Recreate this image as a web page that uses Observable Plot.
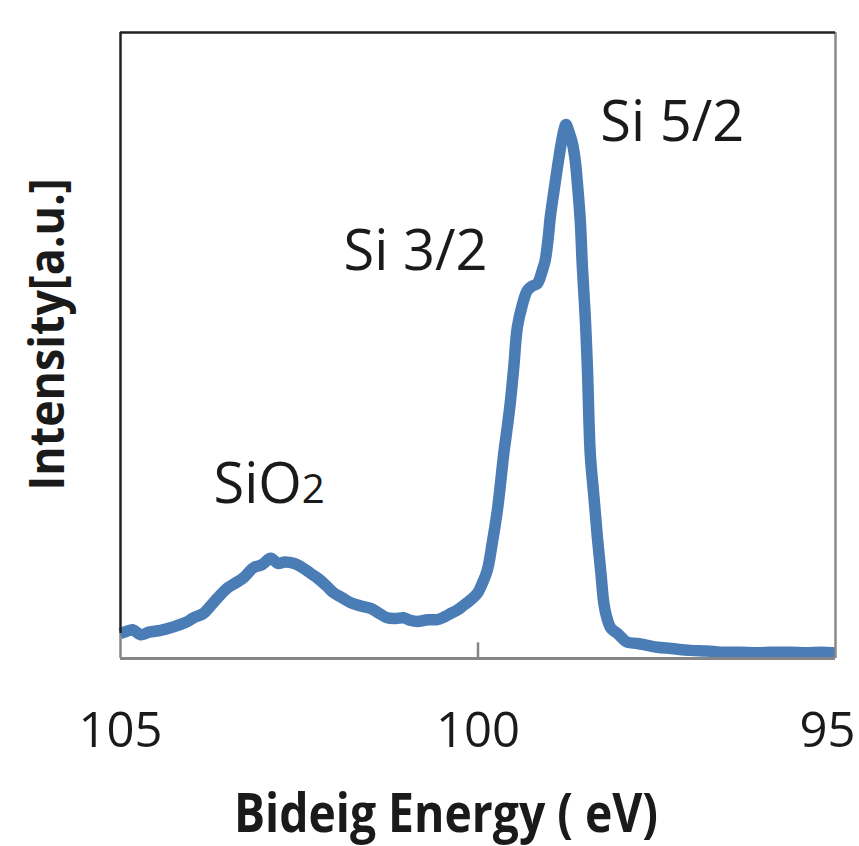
<!DOCTYPE html>
<html><head><meta charset="utf-8">
<script src="https://cdn.jsdelivr.net/npm/d3@7"></script>
<script src="https://cdn.jsdelivr.net/npm/@observablehq/plot@0.6"></script>
<style>body{margin:0;background:#fff;} svg{display:block;}</style>
</head><body><div id="chart"></div>
<script>
const energy = [105.00,104.92,104.83,104.72,104.60,104.44,104.30,104.20,104.08,103.98,103.84,103.74,103.64,103.50,103.40,103.28,103.14,103.02,102.90,102.80,102.70,102.58,102.44,102.34,102.24,102.12,102.02,101.90,101.78,101.64,101.50,101.38,101.27,101.15,101.04,100.95,100.85,100.70,100.57,100.46,100.38,100.28,100.20,100.10,100.01,99.94,99.87,99.80,99.73,99.68,99.64,99.59,99.55,99.50,99.45,99.38,99.31,99.24,99.17,99.10,99.06,99.02,98.99,98.94,98.89,98.84,98.80,98.77,98.73,98.68,98.64,98.61,98.57,98.54,98.50,98.47,98.43,98.38,98.33,98.28,98.24,98.20,98.15,98.10,98.05,97.98,97.91,97.77,97.63,97.49,97.30,97.03,96.80,96.60,96.33,96.10,95.90,95.63,95.40,95.20,95.00];
const intensity = [40,43,46,38,42,45,49,53,58,65,72,84,97,113,120,129,145,150,160,152,154,152,144,136,128,116,105,97,89,84,80,72,65,64,65,61,59,62,62,67,72,78,85,94,104,120,141,185,236,285,327,370,407,465,529,565,588,595,599,620,636,670,704,745,784,820,843,853,842,823,795,759,700,625,545,465,327,260,193,135,88,66,50,44,40,32,26,24,21,18,16,13,12,10,10,9,10,10,9,10,9];
const xTicks = [105, 100, 95];
const peakLabels = ["Si 5/2", "Si 3/2", "SiO2"];
const peakLabelX = [98.29, 101.88, 103.70];
const peakLabelY = [827, 620, 248];
const xLabel = "Bideig Energy ( eV)";
const yLabel = "Intensity[a.u.]";

const spectrum = energy.map((e, i) => ({e, v: intensity[i]}));
const labels = peakLabels.map((t, i) => ({t, x: peakLabelX[i], y: peakLabelY[i]}));
const innerTicks = xTicks.slice(0, 2);
const lastTick = xTicks.slice(2);

const plot = Plot.plot({
  width: 859,
  height: 846,
  marginLeft: 120,
  marginRight: 24,
  marginTop: 32,
  marginBottom: 188,
  style: {fontFamily: "'Open Sans', sans-serif", background: "#fff", overflow: "visible"},
  x: {domain: [105, 95], axis: null},
  y: {domain: [0, 1000], axis: null},
  marks: [
    Plot.ruleX([100], {y1: 0, y2: 25, stroke: "#868686", strokeWidth: 2.5}),
    Plot.ruleX([105], {y1: 0, y2: 40, stroke: "#868686", strokeWidth: 2.5}),
    Plot.line(spectrum, {x: "e", y: "v", stroke: "#4a7cb5", strokeWidth: 11.5, strokeLinejoin: "round", strokeLinecap: "butt", curve: "catmull-rom"}),
    Plot.ruleX([95], {y1: 0, y2: 1000, stroke: "#8a8a8a", strokeWidth: 2.5}),
    Plot.ruleY([0], {x1: 105, x2: 95, stroke: "#868686", strokeWidth: 3}),
    Plot.ruleX([105], {y1: 40, y2: 1000, stroke: "#222", strokeWidth: 2.5}),
    Plot.ruleY([1000], {x1: 105, x2: 95, stroke: "#222", strokeWidth: 2.5}),
    Plot.axisX(innerTicks, {tickSize: 0, tickPadding: 54, fontSize: 49, fill: "#1a1a1a", tickFormat: d => String(d)}),
    Plot.axisX(lastTick, {tickSize: 0, tickPadding: 54, fontSize: 49, fill: "#1a1a1a", dx: -8, tickFormat: d => String(d)}),
    Plot.text(labels, {x: "x", y: "y", text: "t", textAnchor: "start", lineAnchor: "bottom", fontSize: 56, fill: "#1a1a1a"}),
    Plot.text([xLabel], {frameAnchor: "bottom", dx: -244, dy: 173, textAnchor: "start", lineAnchor: "bottom", fontSize: 53, fontWeight: "bold", fill: "#1a1a1a"}),
    Plot.text([yLabel], {frameAnchor: "left", dx: -57, dy: 145, rotate: -90, textAnchor: "start", lineAnchor: "bottom", fontSize: 49, fontWeight: "bold", fill: "#1a1a1a"})
  ]
});

document.getElementById("chart").appendChild(plot);

d3.select(plot).selectAll("text").each(function() {
  const t = this.textContent;
  if (t === "SiO2") {
    const s = d3.select(this);
    s.text(null);
    s.append("tspan").text("SiO");
    s.append("tspan").attr("font-size", "0.72em").text("2");
  } else if (t === xLabel) {
    d3.select(this).attr("textLength", 424).attr("lengthAdjust", "spacingAndGlyphs");
  } else if (t === yLabel) {
    d3.select(this).attr("textLength", 312).attr("lengthAdjust", "spacingAndGlyphs");
  }
});
</script>
</body></html>
